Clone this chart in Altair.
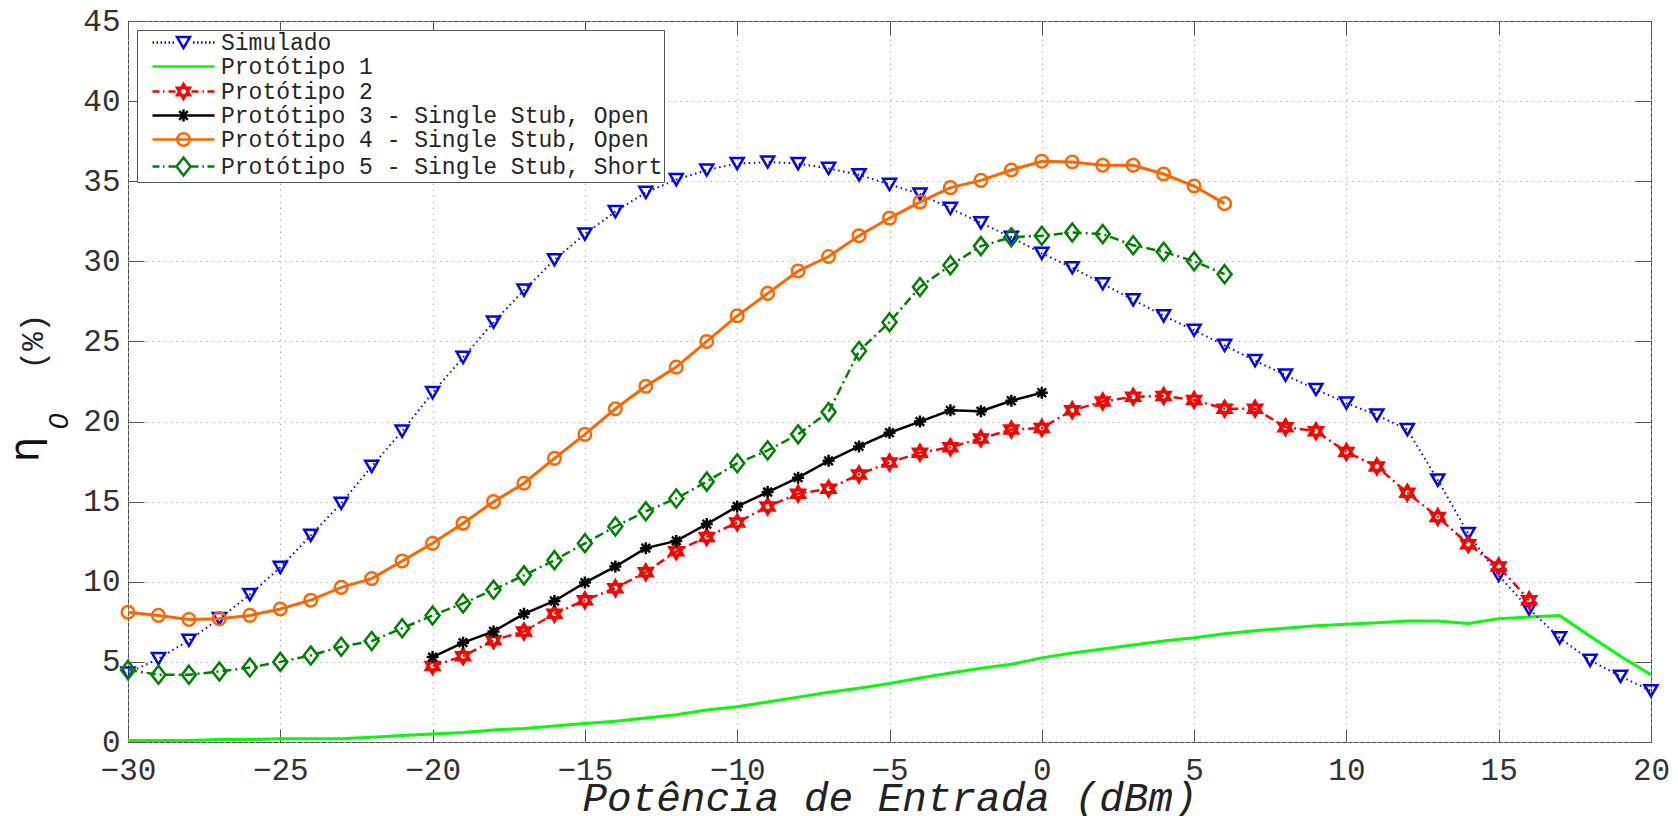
import altair as alt
import pandas as pd

# ---------------- data ----------------
names = [
    "Simulado",
    "Protótipo 1",
    "Protótipo 2",
    "Protótipo 3 - Single Stub, Open",
    "Protótipo 4 - Single Stub, Open",
    "Protótipo 5 - Single Stub, Short",
]

x_sim = list(range(-30, 21))
y_sim = [4.3, 5.2, 6.35, 7.7, 9.2, 10.9, 12.9, 14.9, 17.2, 19.4,
         21.8, 24.0, 26.2, 28.2, 30.1, 31.7, 33.1, 34.3, 35.1, 35.7,
         36.1, 36.2, 36.1, 35.8, 35.4, 34.8, 34.2, 33.3, 32.4, 31.5,
         30.5, 29.6, 28.6, 27.6, 26.6, 25.7, 24.75, 23.8, 22.9, 22.0,
         21.15, 20.4, 19.5, 16.35, 13.0, 10.4, 8.3, 6.5, 5.1, 4.1, 3.2]

x_p1 = list(range(-30, 21))
y_p1 = [0.1, 0.1, 0.1, 0.15, 0.15, 0.2, 0.2, 0.2, 0.3, 0.4,
        0.5, 0.6, 0.75, 0.85, 1.0, 1.15, 1.3, 1.5, 1.7, 2.0,
        2.2, 2.5, 2.8, 3.1, 3.35, 3.65, 4.0, 4.3, 4.6, 4.85,
        5.25, 5.55, 5.8, 6.05, 6.3, 6.5, 6.75, 6.95, 7.1, 7.25,
        7.35, 7.45, 7.55, 7.55, 7.4, 7.7, 7.8, 7.9, 6.6, 5.35, 4.2]

x_p2 = list(range(-20, 17))
y_p2 = [4.75, 5.35, 6.35, 6.9, 8.0, 8.85, 9.6, 10.6, 11.9, 12.8,
        13.7, 14.7, 15.5, 15.8, 16.7, 17.45, 18.05, 18.4, 18.95, 19.5,
        19.6, 20.7, 21.25, 21.55, 21.6, 21.35, 20.8, 20.8, 19.65, 19.4,
        18.1, 17.2, 15.55, 14.05, 12.35, 10.95, 8.85]

x_p3 = list(range(-20, 1))
y_p3 = [5.3, 6.2, 6.9, 8.0, 8.8, 9.95, 10.95, 12.1, 12.55, 13.6,
        14.7, 15.6, 16.5, 17.55, 18.45, 19.3, 20.0, 20.7, 20.65, 21.3, 21.8]

x_p4 = list(range(-30, 7))
y_p4 = [8.1, 7.9, 7.65, 7.7, 7.9, 8.3, 8.85, 9.65, 10.2, 11.3,
        12.4, 13.65, 15.0, 16.15, 17.7, 19.2, 20.8, 22.2, 23.4, 25.0,
        26.6, 28.0, 29.4, 30.3, 31.6, 32.7, 33.7, 34.6, 35.05, 35.7,
        36.25, 36.2, 36.0, 36.0, 35.45, 34.7, 33.6]

x_p5 = list(range(-30, 7))
y_p5 = [4.5, 4.2, 4.2, 4.4, 4.65, 5.0, 5.4, 5.95, 6.3, 7.1,
        7.9, 8.65, 9.5, 10.4, 11.35, 12.4, 13.45, 14.4, 15.2, 16.25,
        17.4, 18.2, 19.2, 20.6, 24.4, 26.2, 28.4, 29.75, 30.95, 31.5,
        31.6, 31.8, 31.7, 31.0, 30.6, 30.0, 29.2]

x_ticks = [-30, -25, -20, -15, -10, -5, 0, 5, 10, 15, 20]
y_ticks = [0, 5, 10, 15, 20, 25, 30, 35, 40, 45]

series_x = [x_sim, x_p1, x_p2, x_p3, x_p4, x_p5]
series_y = [y_sim, y_p1, y_p2, y_p3, y_p4, y_p5]
rows = []
for n, xs_, ys_ in zip(names, series_x, series_y):
    for a, b in zip(xs_, ys_):
        rows.append({"x": a, "y": b, "s": n})
df = pd.DataFrame(rows)

# ---------------- styles ----------------
colors = ["#0000FF", "#00FF00", "#FF0000", "#000000", "#FF6600", "#008000"]

TRI = "M-6.5,-5.6L6.5,-5.6L0,5.6Z"
HEX = "M0,-7.5L6.5,3.75L-6.5,3.75ZM0,7.5L6.5,-3.75L-6.5,-3.75Z"
AST = "M-6,0H6M0,-6V6M-4.3,-4.3L4.3,4.3M-4.3,4.3L4.3,-4.3"
CIRC = "M6.3,0A6.3,6.3,0,1,1,-6.3,0A6.3,6.3,0,1,1,6.3,0Z"
DIA = "M0,-9L7,0L0,9L-7,0Z"

SOLID_L = "M-31,0H31"
DOT_L = ("M-31,0h1.5M-27,0h1.5M-23,0h1.5M-19,0h1.5M-15,0h1.5M-11,0h1.5"
         "M9.5,0h1.5M13.5,0h1.5M17.5,0h1.5M21.5,0h1.5M25.5,0h1.5M29.5,0h1.5")
DASHDOT_L = "M-31,0h7M-20.5,0h1.5M-15,0h7M8,0h7M19,0h1.5M24,0h7"
legend_paths = [DOT_L + TRI, SOLID_L, DASHDOT_L + HEX, SOLID_L + AST,
                SOLID_L + CIRC, DASHDOT_L + DIA]

W, H = 1523, 721
MONO = "Liberation Mono"
GRID = "#b0b0b0"
TICKC = "#555555"

xs = alt.Scale(domain=[-30, 20], nice=False, zero=False)
ys = alt.Scale(domain=[0, 45], nice=False, zero=False)

main_x = alt.Axis(orient="bottom", values=x_ticks, format="d", grid=True,
                  gridColor=GRID, gridDash=[1.5, 4.5], gridWidth=1,
                  domain=False, ticks=False, labelFont=MONO, labelFontSize=31,
                  labelColor="#333333", labelPadding=13, labelFlush=False,
                  labelOverlap=False,
                  titleFont=MONO, titleFontSize=41, titleFontStyle="italic",
                  titleFontWeight="normal", titleColor="#222222",
                  titleX=W / 2, titleY=68, titleBaseline="alphabetic",
                  titleAlign="center")
main_y = alt.Axis(orient="left", values=y_ticks, format="d", grid=True,
                  gridColor=GRID, gridDash=[1.5, 4.5], gridWidth=1,
                  domain=False, ticks=False, labelFont=MONO, labelFontSize=31,
                  labelColor="#333333", labelPadding=8, labelFlush=False,
                  labelOverlap=False, labelBaseline="middle",
                  titleFont=MONO, titleFontSize=31, titleFontWeight="normal",
                  titleColor="#222222", titleX=-95, titleY=320, titleAngle=270,
                  titleAlign="center", titleBaseline="middle")
eta_y = alt.Axis(orient="left", labels=False, ticks=False, domain=False,
                 grid=False, titleFont="DejaVu Sans", titleFontSize=40,
                 titleFontWeight="normal", titleColor="#111111", titleX=-91,
                 titleY=428, titleAngle=270, titleAlign="center",
                 titleBaseline="alphabetic")
sub_y = alt.Axis(orient="left", labels=False, ticks=False, domain=False,
                 grid=False, titleFont="Liberation Sans", titleFontSize=28,
                 titleFontStyle="italic", titleFontWeight="normal",
                 titleColor="#111111", titleX=-61, titleY=400, titleAngle=270,
                 titleAlign="center", titleBaseline="alphabetic")
tick_bottom = alt.Axis(orient="bottom", offset=-13, tickSize=13, values=x_ticks,
                       labels=False, domain=False, grid=False, tickColor=TICKC)
tick_top = alt.Axis(orient="top", offset=-14, tickSize=14, values=x_ticks,
                    labels=False, domain=False, grid=False, tickColor=TICKC)
tick_left = alt.Axis(orient="left", offset=-16, tickSize=16, values=y_ticks,
                     labels=False, domain=False, grid=False, tickColor=TICKC)
tick_right = alt.Axis(orient="right", offset=-16, tickSize=16, values=y_ticks,
                      labels=False, domain=False, grid=False, tickColor=TICKC)

base = alt.Chart(df)


def enc(xaxis=None, yaxis=None, xtitle=None, ytitle=None):
    return dict(x=alt.X("x:Q", scale=xs, title=xtitle, axis=xaxis),
                y=alt.Y("y:Q", scale=ys, title=ytitle, axis=yaxis))


def sel(n):
    return base.transform_filter(alt.datum.s == n)


line_styles = {
    names[0]: dict(strokeWidth=2, strokeDash=[1.5, 3.5]),
    names[1]: dict(strokeWidth=3),
    names[2]: dict(strokeWidth=2.5, strokeDash=[9, 4, 2, 4]),
    names[3]: dict(strokeWidth=2.5),
    names[4]: dict(strokeWidth=3),
    names[5]: dict(strokeWidth=2.5, strokeDash=[9, 4, 2, 4]),
}
marker = {names[0]: (TRI, 2.5), names[2]: (HEX, 3), names[3]: (AST, 2.5),
          names[4]: (CIRC, 2.5), names[5]: (DIA, 2.5)}
y_axis_for = {2: (eta_y, "η"), 3: (sub_y, "0")}

layers = []
# Protótipo 1 line carries the main axes
layers.append(sel(names[1]).mark_line(color=colors[1], **line_styles[names[1]])
              .encode(**enc(main_x, main_y, "Potência de Entrada (dBm)", "(%)")))
# Simulado: line carries inward ticks bottom/left, points carry top/right
layers.append(sel(names[0]).mark_line(color=colors[0], **line_styles[names[0]])
              .encode(**enc(tick_bottom, tick_left)))
layers.append(sel(names[0]).mark_point(shape=TRI, size=4, filled=False, opacity=1,
                                       strokeWidth=2.5, color=colors[0])
              .encode(**enc(tick_top, tick_right)))
for i in [2, 3, 4, 5]:
    n = names[i]
    yaxis, ytitle = y_axis_for.get(i, (None, None))
    layers.append(sel(n).mark_line(color=colors[i], **line_styles[n])
                  .encode(**enc(None, yaxis, None, ytitle)))
    shp, sw = marker[n]
    layers.append(sel(n).mark_point(shape=shp, size=4, filled=False, opacity=1,
                                    strokeWidth=sw, color=colors[i])
                  .encode(**enc()))

leg = alt.Legend(title=None, orient="none", legendX=9, legendY=9,
                 direction="vertical", symbolSize=4, symbolStrokeWidth=2.5,
                 symbolOffset=34, labelOffset=26, labelFont=MONO,
                 labelFontSize=23, labelColor="#262626", labelLimit=1000,
                 rowPadding=0, padding=1, strokeColor="#555555",
                 fillColor="#ffffff", cornerRadius=0)
legend_layer = (base.transform_filter("false")
                .mark_point(filled=False, size=4, opacity=1, strokeWidth=2.5)
                .encode(**enc(),
                        color=alt.Color("s:N", scale=alt.Scale(domain=names, range=colors), legend=leg),
                        shape=alt.Shape("s:N", scale=alt.Scale(domain=names, range=legend_paths), legend=leg)))
layers.append(legend_layer)

chart = (alt.layer(*layers)
         .resolve_axis(x="independent", y="independent")
         .properties(width=W, height=H,
                     autosize=alt.AutoSizeParams(type="none"),
                     padding={"left": 128, "top": 21, "right": 27, "bottom": 74},
                     background="#ffffff")
         .configure_view(stroke="#4d4d4d", strokeWidth=1))

chart.save("out.html", embed_options={"renderer": "svg", "actions": False})
